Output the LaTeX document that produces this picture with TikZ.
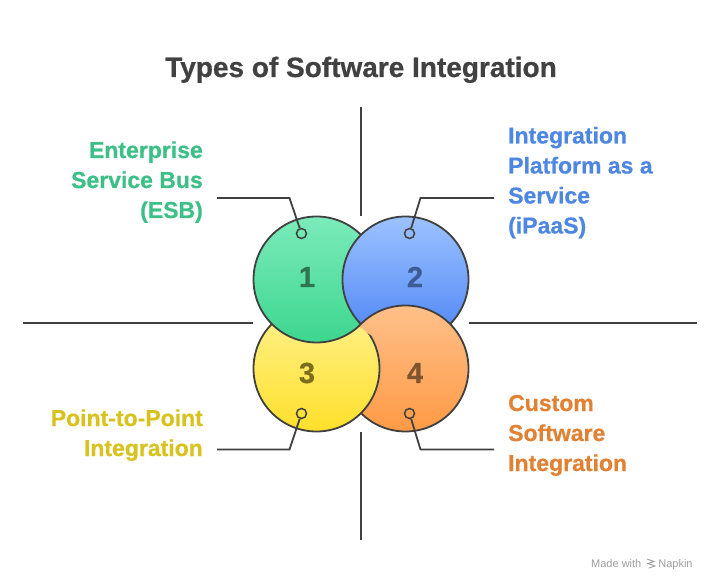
\documentclass[tikz,border=0pt]{standalone}
\usepackage{fontspec}
\setmainfont{Liberation Sans}[BoldFeatures={FakeBold=0.6}]
\definecolor{strokec}{HTML}{404040}
\definecolor{titlec}{HTML}{414141}
\definecolor{gtop}{HTML}{7BEBBA}
\definecolor{gbot}{HTML}{3DD68F}
\definecolor{btop}{HTML}{9CC2FF}
\definecolor{bbot}{HTML}{4C84F5}
\definecolor{ytop}{HTML}{FFF28F}
\definecolor{ybot}{HTML}{FFE02A}
\definecolor{otop}{HTML}{FFC08A}
\definecolor{obot}{HTML}{FF9A45}
\definecolor{gtext}{HTML}{3DBF88}
\definecolor{btext}{HTML}{4D87E2}
\definecolor{ytext}{HTML}{D8C31E}
\definecolor{otext}{HTML}{E08133}
\definecolor{gnum}{HTML}{2E7552}
\definecolor{bnum}{HTML}{3C5C96}
\definecolor{ynum}{HTML}{7C6C1E}
\definecolor{onum}{HTML}{7E552E}
\tikzset{
  ring/.style={draw=strokec, line width=1.8pt},
  dot/.style={draw=strokec, line width=1.5pt, circle, minimum size=10pt, inner sep=0pt},
  leader/.style={draw=strokec, line width=1.8pt},
  axis/.style={draw=strokec, line width=2pt},
  num/.style={font=\bfseries\fontsize{29}{29}\selectfont, inner sep=0pt, anchor=center},
  lbl/.style={font=\bfseries\fontsize{23}{30}\selectfont, inner sep=0pt},
}
\begin{document}
\begin{tikzpicture}[x=1pt,y=-1pt]
\useasboundingbox[fill=white] (0,0) rectangle (721,588);
\def\R{63}
\coordinate (c1) at (316.5,279.5);
\coordinate (c2) at (405.5,279.5);
\coordinate (c3) at (316.5,368.5);
\coordinate (c4) at (405.5,368.5);
% axes
\coordinate (at1) at (361,107);
\coordinate (at2) at (361,216);
\coordinate (ab1) at (361,432);
\coordinate (ab2) at (361,540);
\coordinate (al1) at (23,323.5);
\coordinate (al2) at (253,323.5);
\coordinate (ar1) at (469,323.5);
\coordinate (ar2) at (697,323.5);
\draw[axis] (at1) -- (at2);
\draw[axis] (ab1) -- (ab2);
\draw[axis] (al1) -- (al2);
\draw[axis] (ar1) -- (ar2);
% circles, order 4,3,1,2
\shade[top color=otop, bottom color=obot] (c4) circle (\R);
\draw[ring] (c4) circle (\R);
\shade[top color=ytop, bottom color=ybot] (c3) circle (\R);
\draw[ring] (c3) circle (\R);
\shade[top color=gtop, bottom color=gbot] (c1) circle (\R);
\draw[ring] (c1) circle (\R);
\shade[top color=btop, bottom color=bbot] (c2) circle (\R);
\draw[ring] (c2) circle (\R);
\begin{scope}
  \clip (c2) circle (\R+2.5);
  \shade[top color=otop, bottom color=obot] (c4) circle (\R);
  \draw[ring] (c4) circle (\R);
\end{scope}
% numbers
\node[num, text=gnum] (n1) at (307,277) {1};
\node[num, text=bnum] (n2) at (415,277) {2};
\node[num, text=ynum] (n3) at (307,373) {3};
\node[num, text=onum] (n4) at (415,373) {4};
% dots
\node[dot] (d1) at (301.5,233.5) {};
\node[dot] (d2) at (409.5,233.5) {};
\node[dot] (d3) at (301.5,413.5) {};
\node[dot] (d4) at (409.5,413.5) {};
% leader bends and ends
\coordinate (k1) at (289.5,198);
\coordinate (e1) at (217,198);
\coordinate (k2) at (420.5,198);
\coordinate (e2) at (494,198);
\coordinate (k3) at (289.5,449.5);
\coordinate (e3) at (217,449.5);
\coordinate (k4) at (420.5,449.5);
\coordinate (e4) at (494,449.5);
\draw[leader] (d1) -- (k1) -- (e1);
\draw[leader] (d2) -- (k2) -- (e2);
\draw[leader] (d3) -- (k3) -- (e3);
\draw[leader] (d4) -- (k4) -- (e4);
% title
\node[font=\bfseries\fontsize{28}{28}\selectfont, text=titlec, inner sep=0pt, anchor=base] (title) at (361,77) {Types of Software Integration};
% labels (base anchor = last line)
\node[lbl, text=gtext, align=right, anchor=base east] (l1) at (203,218) {Enterprise\\Service Bus\\(ESB)};
\node[lbl, text=btext, align=left, anchor=base west] (l2) at (508,233.5) {Integration\\Platform as a\\Service\\(iPaaS)};
\node[lbl, text=ytext, align=right, anchor=base east] (l3) at (203,456) {Point-to-Point\\Integration};
\node[lbl, text=otext, align=left, anchor=base west] (l4) at (508,471) {Custom\\Software\\Integration};
% watermark
\node[font=\fontsize{11}{11}\selectfont, text=black!38, inner sep=0pt, anchor=base west] (wm) at (591,567) {Made with \hspace{14pt}Napkin};
\begin{scope}[draw=black!38, line width=0.9pt, line cap=round]
  \draw (647,559) -- (654,561.5) -- (648,563.5) -- (655,566) -- (649,568);
\end{scope}
\end{tikzpicture}
\end{document}
